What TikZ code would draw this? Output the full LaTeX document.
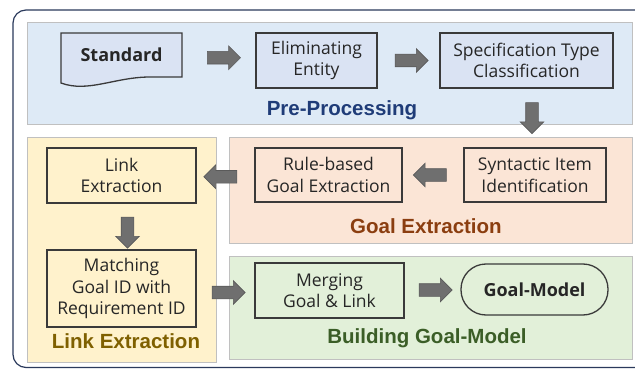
\documentclass[tikz,border=0pt]{standalone}
\usepackage{fontspec}
\setmainfont{Open Sans}
\newfontfamily\titlefont{Liberation Sans}
\usetikzlibrary{shapes.arrows,calc}

\definecolor{frameblue}{HTML}{2B3A5C}
\definecolor{panelline}{HTML}{C0C0C0}
\definecolor{ppfill}{HTML}{DEEAF6}
\definecolor{ppbox}{HTML}{DAE3F3}
\definecolor{gefill}{HTML}{FBE5D6}
\definecolor{lefill}{HTML}{FFF2CC}
\definecolor{bgfill}{HTML}{E2F0D9}
\definecolor{boxline}{HTML}{3A3A3A}
\definecolor{boxtext}{HTML}{262626}
\definecolor{arrowfill}{HTML}{6F6F6F}
\definecolor{arrowline}{HTML}{5A5A5A}
\definecolor{pptitle}{HTML}{1F3C78}
\definecolor{getitle}{HTML}{8B3E10}
\definecolor{letitle}{HTML}{7F6000}
\definecolor{bgtitle}{HTML}{3B5E27}

\tikzset{
  panel/.style={draw=panelline, line width=0.8pt},
  stepbox/.style={draw=boxline, line width=1.3pt, align=center, inner sep=0pt,
    text=boxtext, font=\fontsize{17.5}{21.5}\selectfont},
  paneltitle/.style={font=\titlefont\bfseries\fontsize{20.5}{24}\selectfont},
  blockarrow/.style={single arrow, fill=arrowfill, draw=arrowline, line width=0.6pt,
    minimum height=33pt, inner sep=6pt, single arrow head extend=5.5pt,
    single arrow tip angle=90, single arrow head indent=0pt},
}

\begin{document}
\begin{tikzpicture}[x=1pt,y=-1pt]
  \useasboundingbox (0,0) rectangle (635,369);
  \fill[white] (0,0) rectangle (635,369);

  % outer frame (runs off the right edge)
  \draw[frameblue, line width=1.2pt, rounded corners=13pt] (13,10) rectangle (660,367.5);

  % stage panels
  \filldraw[panel, fill=ppfill] (27,22) rectangle (632,124);
  \filldraw[panel, fill=lefill] (27,137) rectangle (216,362);
  \filldraw[panel, fill=gefill] (229,137) rectangle (632,243);
  \filldraw[panel, fill=bgfill] (229,256) rectangle (632,359);

  % document shape for the input standard
  \filldraw[draw=boxline, line width=1.3pt, fill=ppbox]
    (61,33) -- (182,33) -- (182,77) -- (150,77)
    .. controls (115,77) and (88,93) .. (61,83) -- cycle;
  \node[text=boxtext, font=\bfseries\fontsize{18}{21}\selectfont,
        minimum width=121pt, minimum height=44pt, inner sep=0pt] (std) at (121.5,55) {Standard};

  % pre-processing steps
  \node[stepbox, fill=ppbox, minimum width=121pt, minimum height=55pt] (elim) at (316.5,60.5)
    {Eliminating\\Entity};
  \node[stepbox, fill=ppbox, minimum width=173pt, minimum height=55pt] (spec) at (526.5,60.5)
    {Specification Type\\Classification};
  \node[paneltitle, text=pptitle] (pplabel) at (342,110) {Pre-Processing};

  % goal extraction steps
  \node[stepbox, fill=gefill, minimum width=142pt, minimum height=54pt] (syn) at (535,175)
    {Syntactic Item\\Identification};
  \node[stepbox, fill=gefill, minimum width=147pt, minimum height=54pt] (rule) at (328.5,175)
    {Rule-based\\Goal Extraction};
  \node[paneltitle, text=getitle] (gelabel) at (426,226) {Goal Extraction};

  % link extraction steps
  \node[stepbox, fill=lefill, minimum width=149pt, minimum height=55pt] (link) at (121.5,175.5)
    {Link\\Extraction};
  \node[stepbox, fill=lefill, minimum width=149pt, minimum height=77pt] (match) at (121.5,288.5)
    {Matching\\Goal ID with\\Requirement ID};
  \node[paneltitle, text=letitle] (lelabel) at (126,341) {Link Extraction};

  % building the goal model
  \node[stepbox, fill=bgfill, minimum width=149pt, minimum height=55pt] (merge) at (329.5,290.5)
    {Merging\\Goal \& Link};
  \node[stepbox, fill=bgfill, minimum width=147pt, minimum height=51pt, rounded corners=25pt,
        font=\bfseries\fontsize{18}{21}\selectfont] (gm) at (534.5,289.5) {Goal-Model};
  \node[paneltitle, text=bgtitle] (bglabel) at (427,338) {Building Goal-Model};

  % flow arrows
  \node[blockarrow] at ($(std.east)!0.5!(elim.west)+(2,0)$) {};
  \node[blockarrow] at ($(elim.east)!0.5!(spec.west)$) {};
  \node[blockarrow, shape border rotate=270, minimum height=31pt] at (532,115) {};
  \node[blockarrow, shape border rotate=180] at ($(syn.west)!0.5!(rule.east)$) {};
  \node[blockarrow, shape border rotate=180] at ($(rule.west)!0.5!(link.east)+(-2,1.5)$) {};
  \node[blockarrow, shape border rotate=270, minimum height=31pt] at ($(link.south)!0.5!(match.north)+(6,3)$) {};
  \node[blockarrow] at ($(match.east)!0.5!(merge.west)+(0,3)$) {};
  \node[blockarrow] at ($(merge.east)!0.5!(gm.west)$) {};
\end{tikzpicture}
\end{document}
